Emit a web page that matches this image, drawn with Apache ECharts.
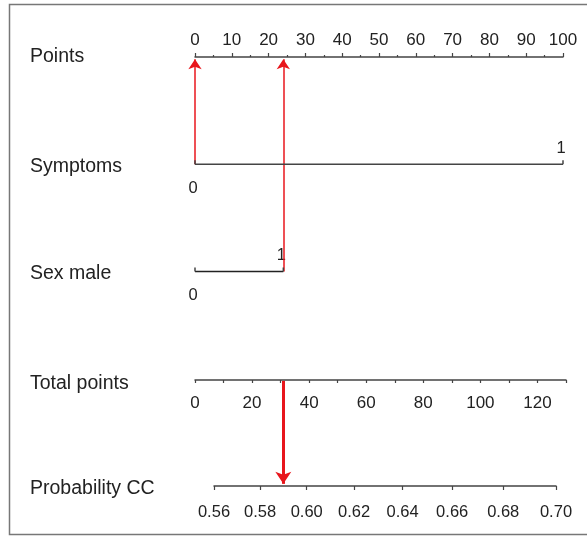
<!DOCTYPE html>
<html>
<head>
<meta charset="utf-8">
<script src="https://cdn.jsdelivr.net/npm/echarts@6/dist/echarts.min.js"></script>
<style>html,body{margin:0;padding:0;background:#fff;}#chart{width:587px;height:537px;}</style>
</head>
<body>
<div id="chart"></div>
<script>
// ---- data ----
const rowNames = ['Points', 'Symptoms', 'Sex male', 'Total points', 'Probability CC'];
const pointsMax = 100;
const symptomsLevels = ['0', '1'];
const symptomsPoints = [0, 100];
const sexLevels = ['0', '1'];
const sexPoints = [0, 24];
const totalMax = 130;
const totalLabelStep = 20;
const probTicks = [0.56, 0.58, 0.60, 0.62, 0.64, 0.66, 0.68, 0.70];
const exampleSymptoms = 0;   // points read for Symptoms = 0
const exampleSex = 24;       // points read for Sex male = 1
const exampleTotal = 24;     // drop line to probability

const logit = p => Math.log(p / (1 - p));
const invLogit = v => 1 / (1 + Math.exp(-v));

const FONT = "'Liberation Sans', Arial, sans-serif";
const TXT = '#222';
const AX = '#444';
const RED = '#e8161c';

// level labels: [points, row, text, side]
const levelLabels = [];
symptomsPoints.forEach((p, i) => levelLabels.push([p, 1, symptomsLevels[i], i === 0 ? 'below' : 'above']));
sexPoints.forEach((p, i) => levelLabels.push([p, 2, sexLevels[i], i === 0 ? 'below' : 'above']));

const rowNudge = [0, 4, 4, 9, 6];
const rowRich = {};
rowNudge.forEach((n, i) => {
  rowRich['r' + i] = {fontSize: 19.5, fontFamily: FONT, color: TXT, padding: [n, 0, 0, 0]};
});

const chart = echarts.init(document.getElementById('chart'), null, {renderer: 'canvas'});
chart.setOption({
  animation: false,
  backgroundColor: '#fff',
  graphic: [{
    type: 'rect', silent: true,
    shape: {x: 9.5, y: 4.5, width: 620, height: 530},
    style: {fill: 'none', stroke: '#777', lineWidth: 1.5}
  }],
  grid: [
    {left: 195, right: 24, top: 57, height: 429},
    {left: 195, right: 21, top: 370, height: 10},
    {left: 214, right: 31, top: 476, height: 10}
  ],
  xAxis: [
    {
      gridIndex: 0, type: 'value', position: 'top', min: 0, max: pointsMax, interval: 10,
      axisLine: {show: true, onZero: false, lineStyle: {color: AX, width: 1.5}},
      axisTick: {show: true, inside: false, length: 4, lineStyle: {color: AX, width: 1.2}},
      minorTick: {show: true, splitNumber: 2, length: 2, lineStyle: {color: AX, width: 1.2}},
      axisLabel: {color: TXT, fontSize: 17, fontFamily: FONT, margin: 8, showMinLabel: true, showMaxLabel: true},
      splitLine: {show: false}
    },
    {
      gridIndex: 1, type: 'value', position: 'bottom', min: 0, max: totalMax, interval: 10,
      axisLine: {show: true, onZero: false, lineStyle: {color: AX, width: 1.5}},
      axisTick: {show: true, length: 3, lineStyle: {color: AX, width: 1.2}},
      axisLabel: {
        color: TXT, fontSize: 17, fontFamily: FONT, margin: 15,
        formatter: v => (v % totalLabelStep === 0 && v < totalMax) ? String(v) : ''
      },
      splitLine: {show: false}
    },
    {
      gridIndex: 2, type: 'value', position: 'bottom',
      min: logit(probTicks[0]), max: logit(probTicks[probTicks.length - 1]),
      axisLine: {show: true, onZero: false, lineStyle: {color: AX, width: 1.5}},
      axisTick: {show: true, length: 4, customValues: probTicks.map(logit), lineStyle: {color: AX, width: 1.2}},
      axisLabel: {
        color: TXT, fontSize: 16.5, fontFamily: FONT, margin: 18,
        customValues: probTicks.map(logit),
        formatter: v => invLogit(v).toFixed(2)
      },
      splitLine: {show: false}
    }
  ],
  yAxis: [
    {
      gridIndex: 0, type: 'value', min: 0, max: rowNames.length - 1, interval: 1, inverse: true,
      axisLine: {show: false}, axisTick: {show: false}, splitLine: {show: false},
      axisLabel: {
        color: TXT, fontSize: 19.5, fontFamily: FONT, align: 'left', margin: 165,
        formatter: v => rowNames[v] ? '{r' + v + '|' + rowNames[v] + '}' : '',
        rich: rowRich
      }
    },
    {gridIndex: 1, type: 'value', show: false, min: 0, max: 1},
    {gridIndex: 2, type: 'value', show: false, min: 0, max: 1}
  ],
  series: [
    {
      type: 'line', xAxisIndex: 0, yAxisIndex: 0,
      data: symptomsPoints.map(p => [p, 1]),
      symbol: 'rect', symbolSize: [1.5, 4], symbolOffset: [0, -2],
      itemStyle: {color: AX},
      lineStyle: {color: AX, width: 1.5}
    },
    {
      type: 'line', xAxisIndex: 0, yAxisIndex: 0,
      data: sexPoints.map(p => [p, 2]),
      symbol: 'rect', symbolSize: [1.5, 4], symbolOffset: [0, -2],
      itemStyle: {color: AX},
      lineStyle: {color: '#222', width: 1.5}
    },
    {
      type: 'custom', xAxisIndex: 0, yAxisIndex: 0,
      data: levelLabels,
      renderItem: (params, api) => {
        const pt = api.coord([api.value(0), api.value(1)]);
        const d = levelLabels[params.dataIndex];
        const below = d[3] === 'below';
        return {
          type: 'text',
          style: {
            text: d[2], x: pt[0] - 2, y: pt[1] + (below ? 24 : -16),
            align: 'center', verticalAlign: 'middle',
            fill: TXT, fontSize: 16.5, fontFamily: FONT
          }
        };
      }
    },
    {
      type: 'lines', coordinateSystem: 'cartesian2d', xAxisIndex: 0, yAxisIndex: 0,
      clip: false,
      symbol: ['none', 'arrow'], symbolSize: 10,
      lineStyle: {color: RED, width: 1.5, opacity: 1},
      data: [
        {coords: [[exampleSymptoms, 1], [exampleSymptoms, 0.02]]},
        {coords: [[exampleSex, 2], [exampleSex, 0.02]]}
      ]
    },
    {
      type: 'lines', coordinateSystem: 'cartesian2d', xAxisIndex: 0, yAxisIndex: 0,
      clip: false,
      symbol: ['none', 'arrow'], symbolSize: 12,
      lineStyle: {color: RED, width: 3, opacity: 1},
      data: [
        {coords: [[exampleTotal, 3.02], [exampleTotal, 3.98]]}
      ]
    }
  ]
});
</script>
</body>
</html>
